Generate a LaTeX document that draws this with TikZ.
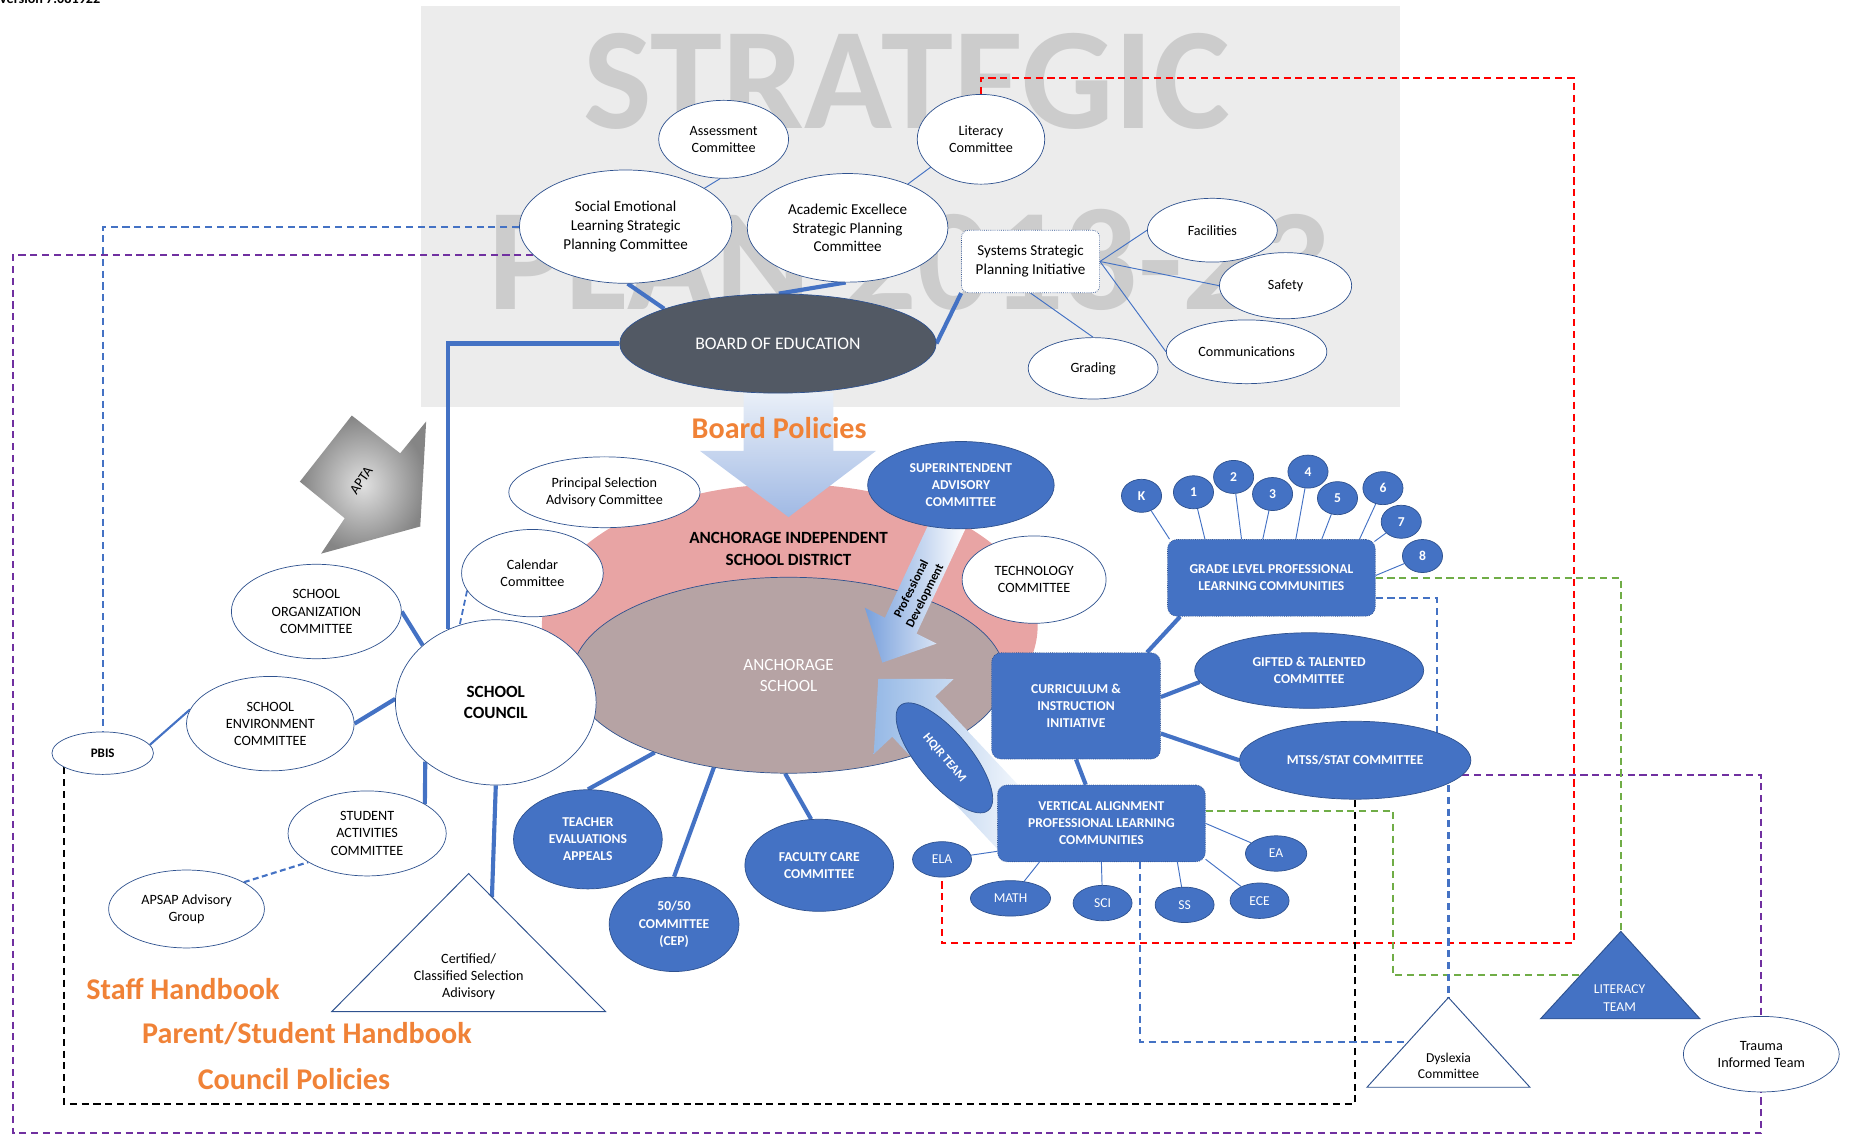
\documentclass[tikz,border=0pt]{standalone}
\usepackage{fontspec}
\setmainfont{Carlito}
\usetikzlibrary{shapes,arrows,positioning,calc}
\usetikzlibrary{arrows.meta}

\definecolor{cblue}{RGB}{68,114,196}
\definecolor{cdark}{RGB}{47,82,143}
\definecolor{cboe}{RGB}{82,89,100}
\definecolor{cpink}{RGB}{232,164,164}
\definecolor{cmauve}{RGB}{182,163,164}
\definecolor{cgray}{RGB}{236,236,236}
\definecolor{corange}{RGB}{240,130,55}
\definecolor{cred}{RGB}{255,0,0}
\definecolor{cgreen}{RGB}{112,173,71}
\definecolor{cpurple}{RGB}{112,48,160}
\definecolor{bptop}{RGB}{233,239,248}
\definecolor{bpbot}{RGB}{160,185,228}
\definecolor{pdblue}{RGB}{120,160,220}
\definecolor{hqblue}{RGB}{150,185,230}

\pgfdeclarelayer{back}
\pgfdeclarelayer{links}
\pgfsetlayers{back,links,main}

\tikzset{
  dims/.style 2 args={minimum width=#1, minimum height=#2},
  wbub/.style={ellipse, draw=cdark, line width=0.6pt, fill=white, inner sep=0pt, align=center, font=\fontsize{12}{14.5}\selectfont},
  bigtxt/.style={font=\fontsize{12.8}{16}\selectfont},
  bbub/.style={ellipse, draw=cdark, line width=0.6pt, fill=cblue, text=white, inner sep=0pt, align=center, font=\bfseries\fontsize{11.5}{14.5}\selectfont},
  bbox/.style={draw=cdark, densely dotted, line width=0.6pt, rounded corners=8pt, fill=cblue, text=white, inner sep=0pt, align=center, font=\bfseries\fontsize{11.5}{14.5}\selectfont},
  fat/.style={cblue, line width=3.5pt},
  slim/.style={cblue, line width=0.8pt},
  dlink/.style={line width=1.8pt, dash pattern=on 6pt off 4pt},
  orng/.style={text=corange, font=\bfseries\fontsize{25.5}{30}\selectfont},
  wmark/.style={text=black!20, font=\bfseries\fontsize{123}{123}\selectfont, inner sep=0pt, anchor=base},
  tri/.style={draw=cdark, line width=0.8pt},
}

\begin{document}
\begin{tikzpicture}[x=1pt,y=-1pt]
  \useasboundingbox (0,0) rectangle (1568,961);

  % strategic plan backdrop
  \begin{pgfonlayer}{back}
    \fill[cgray] (357,5) rectangle (1186,345);
    \node[wmark] (wm1) at (768,109) {STRATEGIC};
    \node[wmark] (wm2) at (770,262) {PLAN 2018-23};
  \end{pgfonlayer}

  \node[anchor=base west, inner sep=0pt, font=\bfseries\fontsize{12}{14}\selectfont] (ver) at (-1,3) {Version 7.081922};

  % district and school
  \node[ellipse, fill=cpink, dims={420}{240}] (aisd) at (669,530) {};
  \shade[top color=bptop, bottom color=bpbot] (630,333) -- (706,333) -- (706,382) -- (742,382) -- (668,438) -- (593,382) -- (630,382) -- cycle;
  \node[orng] (bpol) at (660,363) {Board Policies};
  \node[align=center, font=\bfseries\fontsize{14.5}{18}\selectfont] (aisdlbl) at (668,465) {ANCHORAGE INDEPENDENT\\SCHOOL DISTRICT};
  \node[ellipse, draw=cdark, line width=0.6pt, fill=cmauve, text=white, align=center, font=\fontsize{14.5}{18}\selectfont, dims={366}{166}] (school) at (668,572) {ANCHORAGE\\SCHOOL};

  % professional development and hqir arrows
  \shade[left color=pdblue, right color=white] (791.6,433.3) -- (749.6,523.3) -- (732.6,514.8) -- (747.4,561.3) -- (793.4,545.2) -- (776.4,536.7) -- (818.4,446.7) -- cycle;
  \node[rotate=63.4, align=center, font=\bfseries\fontsize{10.5}{13}\selectfont] (pdlbl) at (778,502) {Professional\\Development};
  \shade[left color=hqblue, right color=white] (755.8,624.1) -- (740.1,638.8) -- (744,575) -- (807.9,575.2) -- (792.2,589.9) -- (881.2,684.9) -- (844.8,719.1) -- cycle;

  % board and strategic planning committees
  \node[ellipse, draw=cdark, line width=0.6pt, fill=cboe, text=white, font=\fontsize{15}{18}\selectfont, dims={268}{84}] (boe) at (659,291) {BOARD OF EDUCATION};
  \node[wbub, dims={110}{66}] (asm) at (613,118) {Assessment\\Committee};
  \node[wbub, dims={108}{76}] (lit) at (831,118) {Literacy\\Committee};
  \node[wbub, bigtxt, dims={180}{96}] (sel) at (530,192) {Social Emotional\\Learning Strategic\\Planning Committee};
  \node[wbub, bigtxt, dims={170}{92}] (ace) at (718,193) {Academic Excellece\\Strategic Planning\\Committee};
  \node[draw=cdark, densely dotted, line width=0.6pt, fill=white, rounded corners=6pt, inner sep=0pt, align=center, bigtxt, dims={117}{53}] (sys) at (873,221.5) {Systems Strategic\\Planning Initiative};
  \node[wbub, dims={110}{54}] (fac) at (1027,195) {Facilities};
  \node[wbub, dims={112}{56}] (saf) at (1089,242) {Safety};
  \node[wbub, dims={136}{54}] (com) at (1056,298) {Communications};
  \node[wbub, dims={110}{52}] (grd) at (926,312) {Grading};

  % school council side
  \node[wbub, dims={162}{60}] (psac) at (512,417) {Principal Selection\\Advisory Committee};
  \node[wbub, dims={120}{74}] (cal) at (451,485.5) {Calendar\\Committee};
  \node[wbub, dims={144}{80}] (org) at (268,518) {SCHOOL\\ORGANIZATION\\COMMITTEE};
  \node[wbub, dims={142}{80}] (env) at (229,613) {SCHOOL\\ENVIRONMENT\\COMMITTEE};
  \node[wbub, dims={86}{36}, font=\bfseries\fontsize{11}{13}\selectfont] (pbis) at (87,638) {PBIS};
  \node[wbub, dims={134}{72}] (sac) at (311,706) {STUDENT\\ACTIVITIES\\COMMITTEE};
  \node[wbub, dims={132}{66}] (aps) at (158,770) {APSAP Advisory\\Group};
  \node[wbub, dims={170}{140}, font=\bfseries\fontsize{14.5}{18}\selectfont] (council) at (420,595) {SCHOOL\\COUNCIL};

  \coordinate (cA) at (281,857);
  \coordinate (cB) at (513,857);
  \coordinate (cC) at (397,740);
  \filldraw[tri, fill=white] (cA) -- (cB) -- (cC) -- cycle;
  \node[align=center, font=\fontsize{12}{14.5}\selectfont] (certlbl) at (397,827.5) {Certified/\\Classified Selection\\Adivisory};
  \coordinate (certR) at ($(cC)!0.17!(cB)$);

  % apta
  \shade[inner color=black!12, outer color=black!48] (298,352) -- (339,384) -- (361,357) -- (356,446) -- (272,469) -- (292,439) -- (254,408) -- cycle;
  \node[rotate=55, font=\fontsize{12}{14}\selectfont] (apta) at (306,407) {APTA};

  % district committees
  \node[bbub, dims={126}{84}] (tea) at (498,711) {TEACHER\\EVALUATIONS\\APPEALS};
  \node[bbub, dims={110}{80}] (cep) at (571,783) {50/50\\COMMITTEE\\(CEP)};
  \node[bbub, dims={126}{78}] (fcc) at (694,733) {FACULTY CARE\\COMMITTEE};
  \node[bbub, dims={158}{74}] (sup) at (814,411) {SUPERINTENDENT\\ADVISORY\\COMMITTEE};
  \node[wbub, dims={122}{74}] (tech) at (876,491) {TECHNOLOGY\\COMMITTEE};
  \node[bbub, dims={116}{44}, rotate=-50, font=\bfseries\fontsize{10.5}{12}\selectfont] (hqir) at (800,642) {HQIR TEAM};
  \node[bbox, dims={143}{90}] (cur) at (911.5,598) {CURRICULUM \&\\INSTRUCTION\\INITIATIVE};
  \node[bbox, dims={176}{65}] (glp) at (1077,489.5) {GRADE LEVEL PROFESSIONAL\\LEARNING COMMUNITIES};
  \node[bbub, dims={194}{64}] (gt) at (1109,568) {GIFTED \& TALENTED\\COMMITTEE};
  \node[bbub, dims={196}{66}] (mtss) at (1148,644) {MTSS/STAT COMMITTEE};
  \node[bbox, dims={176}{65}] (va) at (933,697.5) {VERTICAL ALIGNMENT\\PROFESSIONAL LEARNING\\COMMUNITIES};

  \foreach \n/\lab/\x/\y in {g0/K/967/420, g1/1/1011/417, g2/2/1045/404, g3/3/1078/418.5, g4/4/1108/399.5, g5/5/1133/422, g6/6/1171.5/413.5, g7/7/1187/442, g8/8/1205/471}
    \node[bbub, dims={34}{28}] (\n) at (\x,\y) {\lab};
  \foreach \n/\lab/\x/\y/\w in {ela/ELA/798/728/50, math/MATH/856/761/68, sci/SCI/934/765/50, ss/SS/1003.5/766.5/50, ece/ECE/1067/763/50, ea/EA/1081/723/52}
    \node[bbub, dims={\w}{30}, font=\fontsize{11.5}{14}\selectfont] (\n) at (\x,\y) {\lab};

  % teams
  \coordinate (ltA) at (1305,863);
  \coordinate (ltB) at (1440,863);
  \coordinate (ltC) at (1373,789);
  \filldraw[tri, fill=cblue] (ltA) -- (ltB) -- (ltC) -- cycle;
  \node[align=center, text=white, font=\fontsize{11.5}{14.5}\selectfont] (ltlbl) at (1372,845.5) {LITERACY\\TEAM};
  \coordinate (ltL) at ($(ltA)!0.5!(ltC)$);
  \coordinate (dA) at (1158,921);
  \coordinate (dB) at (1296,921);
  \coordinate (dC) at (1227,845);
  \filldraw[tri, fill=white] (dA) -- (dB) -- (dC) -- cycle;
  \node[align=center, font=\fontsize{11.5}{14}\selectfont] (dyslbl) at (1227,903) {Dyslexia\\Committee};
  \coordinate (dysL) at ($(dA)!0.5!(dC)$);
  \node[wbub, dims={132}{64}] (trauma) at (1492,893) {Trauma\\Informed Team};

  \node[orng] (staff) at (155,838) {Staff Handbook};
  \node[orng] (psh) at (260,876) {Parent/Student Handbook};
  \node[orng] (cpol) at (249,914) {Council Policies};

  % corners of the dashed routes
  \coordinate (redNE) at (1333,66);
  \coordinate (redSE) at (1333,799);
  \coordinate (purSW) at (11,960);
  \coordinate (blkSE) at (1148,935);
  \coordinate (grnSW) at (1180,826);
  \coordinate (bjog) at (1217,640);

  \begin{pgfonlayer}{links}
    \draw[fat] (sel.-88) -- (boe.163);
    \draw[fat] (ace.-92) -- (boe.89);
    \draw[fat] (sys.south west) -- (boe.east);
    \draw[fat] (boe.west) -| (council.123);
    \draw[slim] (asm.-95) -- (sel.26);
    \draw[slim] (lit.-151) -- (ace.36);
    \draw[slim] (sys.east) -- (fac.west);
    \draw[slim] (sys.east) -- (saf.west);
    \draw[slim] (sys.east) -- (com.west);
    \draw[slim] (sys.south) -- (grd.north);

    \draw[fat] (org.east) -- (council.142);
    \draw[fat] (env.east) -- (council.178);
    \draw[fat] (sac.27) -- (council.-140);
    \draw[fat] (council.south) -- (certR);
    \draw[cblue, line width=1.8pt] (pbis.10) -- (env.170);
    \draw[cblue, line width=1.8pt, dash pattern=on 5pt off 3pt] (aps.25) -- (sac.206);
    \draw[cblue, line width=1.5pt, dash pattern=on 5pt off 3pt] (cal.195) -- (council.115);

    \draw[fat] (tea.north) -- (school.-150);
    \draw[fat] (cep.north) -- (school.-129);
    \draw[fat] (fcc.100) -- (school.-92);
    \draw[fat] (cur.37) -- (glp.203);
    \draw[fat] (cur.6) -- (gt.186);
    \draw[fat] (cur.-18) -- (mtss.west);
    \draw[fat] (cur.south) -- (va.112);

    \foreach \g/\d in {g0/2, g1/32, g2/63, g3/81, g4/109, g5/131, g6/163}
      \draw[slim] (\g) -- ([xshift=\d]glp.north west);
    \draw[slim] (g7) -- ([xshift=-1pt, yshift=-2pt]glp.north east);
    \draw[slim] (g8) -- ([yshift=2pt]glp.east);
    \draw[slim] (ela) -- (va.195);
    \draw[slim] (math) -- (va.212);
    \draw[slim] (sci) -- (va.south);
    \draw[slim] (ss) -- (va.-27);
    \draw[slim] (ece) -- (va.-19);
    \draw[slim] (ea) -- (va.east);

    % dashed routes
    \draw[dlink, cred] (lit.north) |- (redNE) -- (redSE) -| (ela.south);
    \draw[dlink, cblue] (sel.west) -| (pbis.north);
    \draw[dlink, cpurple] (sel.197) -| (purSW) -| (trauma.south);
    \draw[dlink, cpurple] (mtss.-8) -| (trauma.north);
    \draw[dlink, black] (pbis.200) |- (blkSE) -- (mtss.south);
    \draw[dlink, cgreen] (glp.east) -| (ltC);
    \draw[dlink, cgreen] (va.7) -| (grnSW) -- (ltL);
    \draw[dlink, cblue] (glp.-11) -| (bjog) -| (dC);
    \draw[dlink, cblue] (va.-45) |- (dysL);
  \end{pgfonlayer}
\end{tikzpicture}
\end{document}
